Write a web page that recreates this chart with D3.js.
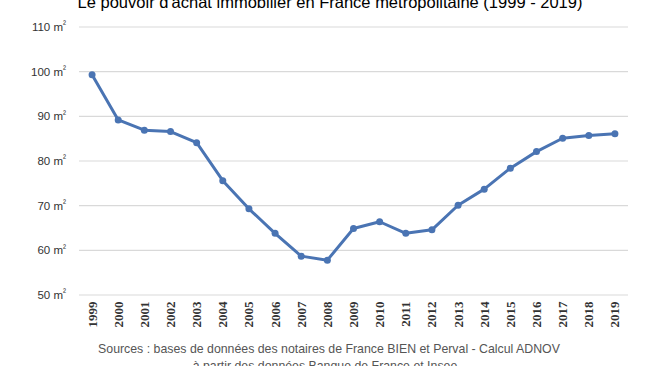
<!DOCTYPE html>
<html><head><meta charset="utf-8">
<script src="https://cdn.jsdelivr.net/npm/d3@7"></script>
<style>
html,body{margin:0;padding:0;background:#fff;}
svg{display:block;}
</style></head>
<body>
<svg id="c" width="650" height="366"></svg>
<script>
const years = ["1999","2000","2001","2002","2003","2004","2005","2006","2007","2008","2009","2010","2011","2012","2013","2014","2015","2016","2017","2018","2019"];
const values = [99.3,89.2,86.9,86.6,84.1,75.6,69.3,63.8,58.7,57.8,64.9,66.4,63.8,64.6,70.1,73.7,78.4,82.1,85.1,85.7,86.1];
const yTicks = [50,60,70,80,90,100,110];
const title = "Le pouvoir d'achat immobilier en France métropolitaine (1999 - 2019)";
const source1 = "Sources : bases de données des notaires de France BIEN et Perval - Calcul ADNOV";
const source2 = "à partir des données Banque de France et Insee";

const svg = d3.select("#c");
const x = d3.scalePoint().domain(years).range([79, 628]).padding(0.5);
const y = d3.scaleLinear().domain([50, 110]).range([295, 27]);

// gridlines
svg.append("g").selectAll("line").data(yTicks).join("line")
  .attr("x1", 79).attr("x2", 628)
  .attr("y1", d => y(d)).attr("y2", d => y(d))
  .attr("stroke", "#d9d9d9").attr("stroke-width", 1.2);

// y labels
const yl = svg.append("g").selectAll("text").data(yTicks).join("text")
  .attr("x", 66).attr("y", d => y(d)).attr("dy", "0.35em")
  .attr("text-anchor", "end")
  .attr("font-family", "Liberation Sans, Arial, sans-serif")
  .attr("font-size", 11.5).attr("fill", "#333");
yl.text(d => d + " m");
yl.append("tspan").attr("font-size", 9).attr("dy", "-0.4em").text("²");

// x labels
svg.append("g").selectAll("text").data(years).join("text")
  .attr("transform", d => `translate(${x(d) + 4.5},301.5) rotate(-90)`)
  .attr("text-anchor", "end")
  .attr("font-family", "Liberation Serif, Times New Roman, serif")
  .attr("font-weight", "bold")
  .attr("font-size", 13).attr("fill", "#333")
  .text(d => d);

// line
const line = d3.line().x((d, i) => x(years[i])).y(d => y(d));
svg.append("path").datum(values)
  .attr("d", line).attr("fill", "none")
  .attr("stroke", "#4a74b3").attr("stroke-width", 3)
  .attr("stroke-linejoin", "round");
svg.append("g").selectAll("circle").data(values).join("circle")
  .attr("cx", (d, i) => x(years[i])).attr("cy", d => y(d))
  .attr("r", 3.5).attr("fill", "#4a74b3");

// title
const t = svg.append("text").attr("x", 330).attr("y", 8)
  .attr("text-anchor", "middle")
  .attr("font-family", "Liberation Sans, Arial, sans-serif")
  .attr("font-size", 15).attr("fill", "#000").text(title);
function fit(sel, w) {
  const cur = sel.node().getComputedTextLength();
  const fs = +sel.attr("font-size");
  sel.attr("font-size", fs * w / cur);
}
fit(t, 505);

// sources
const s1 = svg.append("text").attr("x", 329).attr("y", 353)
  .attr("text-anchor", "middle")
  .attr("font-family", "Liberation Sans, Arial, sans-serif")
  .attr("font-size", 13).attr("fill", "#555").text(source1);
fit(s1, 462);
const s2 = svg.append("text").attr("x", 325).attr("y", 370)
  .attr("text-anchor", "middle")
  .attr("font-family", "Liberation Sans, Arial, sans-serif")
  .attr("font-size", +s1.attr("font-size")).attr("fill", "#555").text(source2);
</script>
</body></html>
